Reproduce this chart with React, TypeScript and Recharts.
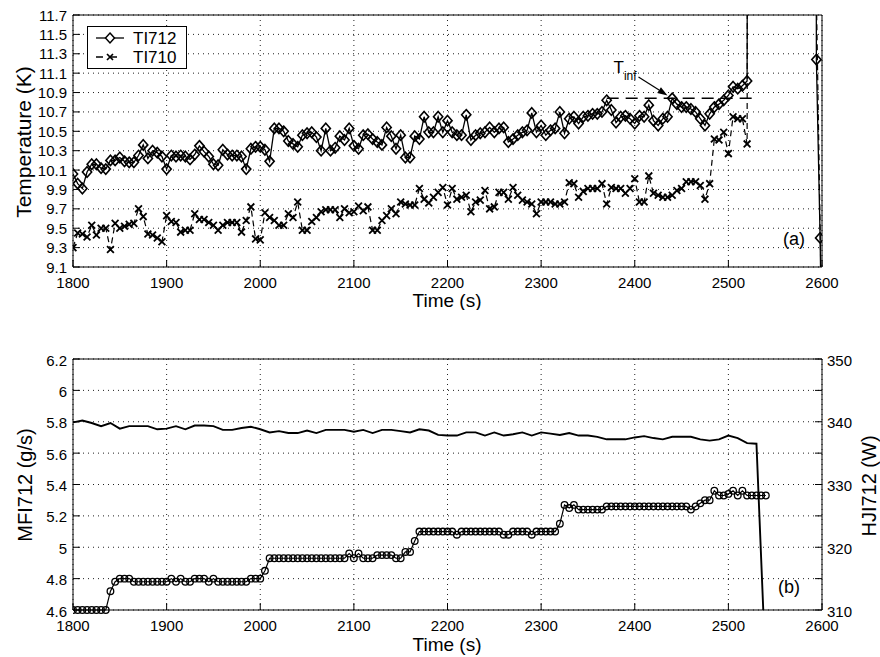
import React from "react";
import { LineChart, Line, XAxis, YAxis, CartesianGrid, Legend, ReferenceLine } from "recharts";

const FONT = '"Liberation Sans", Arial, Helvetica, sans-serif';

// sampling grid of the logged channels
const SAMPLE_START = 1800;
const TEMP_STEP = 5;
const FLOW_STEP = 5;
const POWER_STEP = 10;

const timeTicks = [1800, 1900, 2000, 2100, 2200, 2300, 2400, 2500, 2600];
const tempTicks = [9.1, 9.3, 9.5, 9.7, 9.9, 10.1, 10.3, 10.5, 10.7, 10.9, 11.1, 11.3, 11.5, 11.7];
const flowTicks = [4.6, 4.8, 5, 5.2, 5.4, 5.6, 5.8, 6, 6.2];
const powerTicks = [310, 315, 320, 325, 330, 335, 340, 345, 350];

// TI712 (K), every 5 s from 1800 s
const ti712 = [
  10.06, 9.96, 9.91, 10.08, 10.16, 10.16, 10.12, 10.11, 10.2, 10.2,
  10.23, 10.19, 10.18, 10.18, 10.25, 10.36, 10.22, 10.3, 10.28, 10.24,
  10.11, 10.25, 10.24, 10.25, 10.24, 10.21, 10.26, 10.35, 10.29, 10.24,
  10.16, 10.15, 10.31, 10.26, 10.25, 10.25, 10.24, 10.11, 10.32, 10.34,
  10.34, 10.31, 10.19, 10.53, 10.53, 10.5, 10.4, 10.37, 10.34, 10.46,
  10.48, 10.49, 10.44, 10.3, 10.53, 10.3, 10.33, 10.45, 10.41, 10.53,
  10.35, 10.32, 10.46, 10.47, 10.42, 10.39, 10.36, 10.54, 10.45, 10.32,
  10.46, 10.23, 10.23, 10.45, 10.42, 10.65, 10.49, 10.49, 10.65, 10.49,
  10.61, 10.49, 10.46, 10.46, 10.67, 10.41, 10.46, 10.48, 10.49, 10.54,
  10.49, 10.53, 10.54, 10.39, 10.42, 10.46, 10.49, 10.51, 10.69, 10.49,
  10.56, 10.46, 10.51, 10.53, 10.7, 10.48, 10.63, 10.65, 10.58, 10.65,
  10.66, 10.68, 10.68, 10.7, 10.82, 10.72, 10.59, 10.65, 10.66, 10.63,
  10.58, 10.66, 10.65, 10.77, 10.61, 10.56, 10.63, 10.65, 10.84, 10.78,
  10.75, 10.75, 10.73, 10.7, 10.63, 10.56, 10.68, 10.75, 10.78, 10.82,
  10.87, 10.96, 10.94, 10.97, 11.02,
];
// after the heater trip the sensor leaves the scale and comes back near 2600 s
const ti712TailTime = [2525, 2590, 2594, 2598, 2600];
const ti712TailTemp = [40, 40, 11.24, 9.4, 8.0];

// TI710 (K), every 5 s from 1800 s
const ti710 = [
  9.3, 9.45, 9.44, 9.41, 9.53, 9.43, 9.5, 9.5, 9.28, 9.55,
  9.5, 9.52, 9.54, 9.55, 9.7, 9.62, 9.44, 9.43, 9.4, 9.36,
  9.63, 9.57, 9.56, 9.46, 9.48, 9.48, 9.65, 9.59, 9.59, 9.56,
  9.53, 9.48, 9.53, 9.56, 9.56, 9.56, 9.46, 9.58, 9.72, 9.39,
  9.38, 9.66, 9.61, 9.58, 9.53, 9.53, 9.65, 9.61, 9.77, 9.48,
  9.48, 9.57, 9.61, 9.67, 9.69, 9.69, 9.69, 9.61, 9.7, 9.66,
  9.67, 9.73, 9.68, 9.72, 9.48, 9.48, 9.58, 9.63, 9.7, 9.65,
  9.77, 9.75, 9.74, 9.74, 9.91, 9.8, 9.76, 9.82, 9.87, 9.92,
  9.74, 9.91, 9.8, 9.82, 9.84, 9.67, 9.77, 9.79, 9.89, 9.7,
  9.72, 9.87, 9.87, 9.8, 9.92, 9.84, 9.79, 9.77, 9.75, 9.65,
  9.77, 9.77, 9.77, 9.75, 9.75, 9.77, 9.97, 9.96, 9.82, 9.88,
  9.91, 9.91, 9.91, 9.96, 9.75, 9.92, 9.91, 9.91, 9.86, 9.91,
  10.01, 9.77, 9.77, 10.04, 9.86, 9.84, 9.82, 9.82, 9.84, 9.89,
  9.91, 9.98, 9.98, 9.98, 9.94, 9.8, 9.96, 10.42, 10.41, 10.49,
  10.27, 10.65, 10.63, 10.63, 10.37,
];
const ti710TailTime = [2525, 2590, 2594, 2599];
const ti710TailTemp = [40, 40, 11.9, 8.9];

// MFI712 (g/s), every 5 s from 1800 s
const mfi712 = [
  4.6, 4.6, 4.6, 4.6, 4.6, 4.6, 4.6, 4.6, 4.72, 4.78,
  4.8, 4.8, 4.8, 4.78, 4.78, 4.78, 4.78, 4.78, 4.78, 4.78,
  4.78, 4.8, 4.78, 4.8, 4.78, 4.78, 4.8, 4.8, 4.8, 4.78,
  4.8, 4.78, 4.78, 4.78, 4.78, 4.78, 4.78, 4.78, 4.8, 4.8,
  4.8, 4.85, 4.93, 4.93, 4.93, 4.93, 4.93, 4.93, 4.93, 4.93,
  4.93, 4.93, 4.93, 4.93, 4.93, 4.93, 4.93, 4.93, 4.93, 4.96,
  4.93, 4.96, 4.93, 4.93, 4.93, 4.95, 4.95, 4.95, 4.95, 4.93,
  4.93, 4.97, 4.97, 5.04, 5.1, 5.1, 5.1, 5.1, 5.1, 5.1,
  5.1, 5.1, 5.08, 5.1, 5.1, 5.1, 5.1, 5.1, 5.1, 5.1,
  5.1, 5.1, 5.08, 5.08, 5.1, 5.1, 5.1, 5.1, 5.08, 5.1,
  5.1, 5.1, 5.1, 5.1, 5.15, 5.27, 5.25, 5.27, 5.24, 5.24,
  5.24, 5.24, 5.24, 5.24, 5.26, 5.26, 5.26, 5.26, 5.26, 5.26,
  5.26, 5.26, 5.26, 5.26, 5.26, 5.26, 5.26, 5.26, 5.26, 5.26,
  5.26, 5.26, 5.24, 5.26, 5.28, 5.3, 5.3, 5.36, 5.33, 5.33,
  5.34, 5.36, 5.33, 5.36, 5.33, 5.33, 5.33, 5.33, 5.33,
];

// HJI712 (W), every 10 s from 1800 s
const hji712 = [
  339.9, 340.2, 339.8, 339.3, 339.8, 338.9, 339.3, 339.3, 339.3, 338.8,
  338.9, 339.3, 338.8, 339.4, 339.4, 339.3, 338.7, 338.7, 339.0, 339.2,
  338.8, 338.3, 338.5, 338.2, 338.2, 338.6, 338.2, 338.7, 338.7, 338.7,
  338.4, 338.7, 338.2, 338.7, 338.7, 338.5, 338.3, 338.8, 338.6, 337.9,
  337.8, 337.8, 338.3, 338.3, 337.8, 338.3, 337.8, 338.0, 338.3, 337.8,
  338.3, 338.1, 337.9, 338.2, 337.8, 337.8, 337.6, 337.2, 337.2, 337.2,
  337.5, 337.7, 337.4, 337.2, 337.6, 337.6, 337.6, 337.2, 337.0, 337.2,
  337.8, 337.4, 336.6, 336.5,
];
const hjiTailTime = [2540];
const hjiTailPower = [300];

const tInfLevel = 10.84;

function toPoints(values: number[], step: number, tailT: number[] = [], tailV: number[] = []) {
  const pts = values.map((v, i) => ({ t: SAMPLE_START + i * step, v }));
  tailT.forEach((t, i) => pts.push({ t, v: tailV[i] }));
  return pts;
}

const ti712Data = toPoints(ti712, TEMP_STEP, ti712TailTime, ti712TailTemp);
const ti710Data = toPoints(ti710, TEMP_STEP, ti710TailTime, ti710TailTemp);
const mfiData = toPoints(mfi712, FLOW_STEP);
const hjiData = toPoints(hji712, POWER_STEP, hjiTailTime, hjiTailPower);

const txt = { fontFamily: FONT, fill: "#000" };

const BottomTick = ({ x, y, payload }: any) => (
  <g>
    <line x1={x} x2={x} y1={y} y2={y - 7} stroke="#000" />
    <text x={x} y={y + 21} textAnchor="middle" fontSize={15} {...txt}>{payload.value}</text>
  </g>
);
const TopTick = ({ x, y }: any) => <line x1={x} x2={x} y1={y} y2={y + 7} stroke="#000" />;
const makeLeftTick = (fmt: (v: number) => string, dy: number) => ({ x, y, payload }: any) => (
  <g>
    <line x1={x} x2={x + 7} y1={y} y2={y} stroke="#000" />
    <text x={x - 6} y={y + dy} textAnchor="end" fontSize={15} {...txt}>{fmt(payload.value)}</text>
  </g>
);
const RightTick = ({ x, y }: any) => <line x1={x} x2={x - 7} y1={y} y2={y} stroke="#000" />;
const RightPowerTick = ({ x, y, payload }: any) => (
  <g>
    <line x1={x} x2={x - 7} y1={y} y2={y} stroke="#000" />
    {payload.value % 10 === 0 && (
      <text x={x + 5} y={y + 6.5} textAnchor="start" fontSize={15} {...txt}>{payload.value}</text>
    )}
  </g>
);

const diamond = (p: any) => {
  const { cx, cy, index } = p;
  if (cx == null || cy == null) return <g key={`dn-${index}`} />;
  return (
    <polygon key={`d-${index}`} points={`${cx},${cy - 5.2} ${cx + 4.6},${cy} ${cx},${cy + 5.2} ${cx - 4.6},${cy}`}
      fill="none" stroke="#000" strokeWidth={1.6} />
  );
};
const cross = (p: any) => {
  const { cx, cy, index } = p;
  if (cx == null || cy == null) return <g key={`xn-${index}`} />;
  const s = 3.4;
  return (
    <path key={`x-${index}`} d={`M${cx - s},${cy - s}L${cx + s},${cy + s}M${cx - s},${cy + s}L${cx + s},${cy - s}`}
      stroke="#000" strokeWidth={1.8} fill="none" />
  );
};
const ring = (p: any) => {
  const { cx, cy, index } = p;
  if (cx == null || cy == null) return <g key={`cn-${index}`} />;
  return <circle key={`c-${index}`} cx={cx} cy={cy} r={3.3} fill="none" stroke="#000" strokeWidth={1.3} />;
};

const renderLegend = () => (
  <svg width={100} height={43} style={{ display: "block" }}>
    <rect x={0.5} y={0.5} width={99} height={42} fill="#fff" stroke="#000" />
    <line x1={9} x2={37} y1={12} y2={12} stroke="#000" strokeWidth={1.3} />
    <polygon points="23,7 27.5,12 23,17 18.5,12" fill="#fff" stroke="#000" strokeWidth={1.5} />
    <text x={46} y={18} fontSize={17} {...txt}>TI712</text>
    <line x1={9} x2={37} y1={31} y2={31} stroke="#000" strokeWidth={1.3} strokeDasharray="7 7" />
    <path d="M20,28L26,34M20,34L26,28" stroke="#000" strokeWidth={1.7} />
    <text x={46} y={37} fontSize={17} {...txt}>TI710</text>
  </svg>
);

const renderArrow = (p: any) => {
  const { x1, y1, x2, y2 } = p;
  const a = Math.atan2(y2 - y1, x2 - x1);
  const L = 10;
  const W = 3.5;
  const bx = x2 - L * Math.cos(a);
  const by = y2 - L * Math.sin(a);
  const head = `${x2},${y2} ${bx + W * Math.sin(a)},${by - W * Math.cos(a)} ${bx - W * Math.sin(a)},${by + W * Math.cos(a)}`;
  return (
    <g>
      <line x1={x1} y1={y1} x2={bx} y2={by} stroke="#000" strokeWidth={1.2} />
      <polygon points={head} fill="#000" />
      <text x={x1 - 25} y={y1 - 4} fontSize={17} {...txt}>
        T<tspan dy={7} fontSize={12}>inf</tspan>
      </text>
    </g>
  );
};

const axisTitle = (label: string, x: number, y: number, rotate: boolean, size = 19) => () => (
  <text
    transform={rotate ? `translate(${x},${y}) rotate(-90)` : `translate(${x},${y})`}
    textAnchor="middle"
    dominantBaseline={rotate ? "central" : "auto"}
    fontSize={size}
    {...txt}
  >
    {label}
  </text>
);

export default function App() {
  return (
    <div style={{ position: "absolute", left: 0, top: 0, width: 880, height: 657, background: "#fff", fontFamily: FONT }}>
      <div style={{ position: "absolute", left: 0, top: 0 }}>
        <LineChart width={880} height={310} margin={{ top: 14, right: 0, bottom: 0, left: 0 }}>
          <CartesianGrid stroke="#222" strokeDasharray="1 4" />
          <XAxis type="number" dataKey="t" domain={[1800, 2600]} ticks={timeTicks} interval={0} allowDataOverflow
            height={43} tickSize={0} tickMargin={0} tickLine={false} tick={BottomTick}
            axisLine={{ stroke: "#000" }} label={axisTitle("Time (s)", 447, 307, false)} />
          <XAxis xAxisId="top" orientation="top" type="number" domain={[1800, 2600]} ticks={timeTicks} interval={0}
            height={1} tickSize={0} tickMargin={0} tickLine={false} tick={TopTick} axisLine={{ stroke: "#000" }} />
          <YAxis type="number" domain={[9.1, 11.7]} ticks={tempTicks} interval={0} allowDataOverflow width={73}
            tickSize={0} tickMargin={0} tickLine={false} tick={makeLeftTick((v) => v.toFixed(1), 5.5)}
            axisLine={{ stroke: "#000" }} label={axisTitle("Temperature (K)", 23, 142, true, 21)} />
          <YAxis yAxisId="r" orientation="right" type="number" domain={[9.1, 11.7]} ticks={tempTicks} interval={0}
            width={58} tickSize={0} tickMargin={0} tickLine={false} tick={RightTick} axisLine={{ stroke: "#000" }} />
          <Line data={ti710Data} dataKey="v" name="TI710" type="linear" stroke="#000" strokeWidth={1.2}
            strokeDasharray="6 4" dot={cross} activeDot={false} isAnimationActive={false} />
          <Line data={ti712Data} dataKey="v" name="TI712" type="linear" stroke="#000" strokeWidth={1.3}
            dot={diamond} activeDot={false} isAnimationActive={false} />
          <ReferenceLine segment={[{ x: 2370, y: tInfLevel }, { x: 2525, y: tInfLevel }]} stroke="#000"
            strokeWidth={1.5} strokeDasharray="12 7" />
          <ReferenceLine segment={[{ x: 2404, y: 11.06 }, { x: 2435, y: 10.87 }]} shape={renderArrow} />
          <Legend content={renderLegend} layout="vertical" align="center" verticalAlign="middle"
            wrapperStyle={{ left: 87, top: 26, width: 100, height: 43, lineHeight: 0 }} />
        </LineChart>
      </div>
      <div style={{ position: "absolute", left: 0, top: 310 }}>
        <LineChart width={880} height={347} margin={{ top: 48, right: 0, bottom: 0, left: 0 }}>
          <CartesianGrid yAxisId="left" stroke="#222" strokeDasharray="1 4" />
          <XAxis type="number" dataKey="t" domain={[1800, 2600]} ticks={timeTicks} interval={0} allowDataOverflow
            height={47} tickSize={0} tickMargin={0} tickLine={false} tick={BottomTick}
            axisLine={{ stroke: "#000" }} label={axisTitle("Time (s)", 447, 341, false)} />
          <XAxis xAxisId="top" orientation="top" type="number" domain={[1800, 2600]} ticks={timeTicks} interval={0}
            height={1} tickSize={0} tickMargin={0} tickLine={false} tick={TopTick} axisLine={{ stroke: "#000" }} />
          <YAxis yAxisId="left" type="number" domain={[4.6, 6.2]} ticks={flowTicks} interval={0} width={73}
            tickSize={0} tickMargin={0} tickLine={false} tick={makeLeftTick((v) => String(v), 6.5)}
            axisLine={{ stroke: "#000" }} label={axisTitle("MFI712 (g/s)", 25, 175, true, 20)} />
          <YAxis yAxisId="right" orientation="right" type="number" domain={[310, 350]} ticks={powerTicks} interval={0}
            allowDataOverflow width={58} tickSize={0} tickMargin={0} tickLine={false} tick={RightPowerTick}
            axisLine={{ stroke: "#000" }} label={axisTitle("HJI712 (W)", 869, 176, true, 20)} />
          <Line yAxisId="left" data={mfiData} dataKey="v" name="MFI712" type="linear" stroke="#000"
            strokeWidth={1.2} dot={ring} activeDot={false} isAnimationActive={false} />
          <Line yAxisId="right" data={hjiData} dataKey="v" name="HJI712" type="linear" stroke="#000"
            strokeWidth={1.9} dot={false} activeDot={false} isAnimationActive={false} />
        </LineChart>
      </div>
      <div style={{ position: "absolute", left: 783, top: 228, fontSize: 18, lineHeight: "22px" }}>(a)</div>
      <div style={{ position: "absolute", left: 778, top: 576, fontSize: 18, lineHeight: "22px" }}>(b)</div>
    </div>
  );
}
